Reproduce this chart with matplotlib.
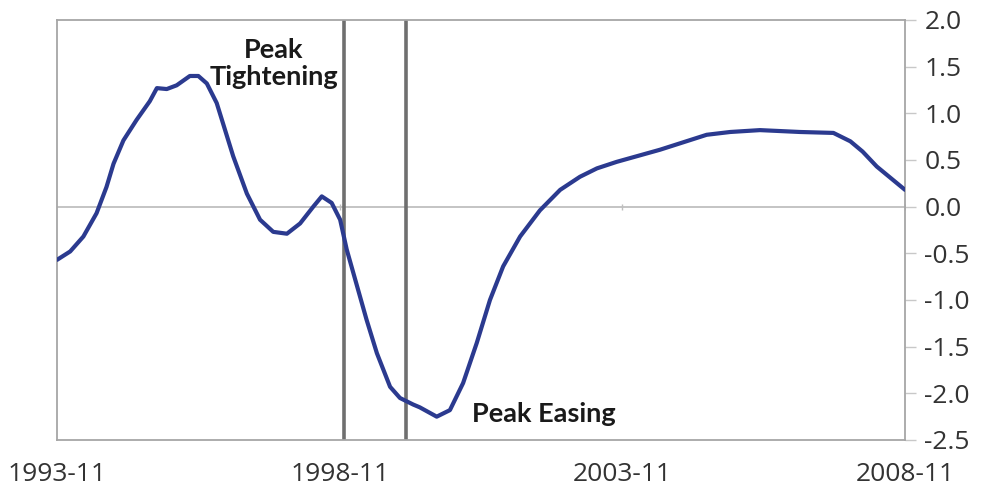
"""Цикл ужесточения/смягчения: линия индекса с отметками пиков."""

import matplotlib.pyplot as plt

# месяцы от 1993-11 (0) до 2008-11 (180)
months = [0, 2.8, 5.6, 8.4, 10.5, 12, 14.1, 16.9, 19.7, 21.2, 23.3, 25.4,
          28.2, 30, 31.8, 33.9, 37.4, 40.3, 43.1, 45.9, 48.8, 51.6, 54.4,
          56.2, 58.3, 60.1, 61.5, 65.7, 67.9, 70.7, 72.8, 75.6, 77, 80.6,
          83.4, 86.2, 89.1, 91.9, 94.7, 98.3, 102.5, 106.8, 111, 114.6,
          118.8, 128, 137.9, 142.9, 149.2, 157.7, 164.8, 168.4, 171, 174,
          180]
values = [-0.57, -0.48, -0.32, -0.07, 0.21, 0.46, 0.71, 0.93, 1.13, 1.27,
          1.26, 1.30, 1.40, 1.40, 1.32, 1.11, 0.54, 0.14, -0.14, -0.27,
          -0.29, -0.18, 0.0, 0.11, 0.04, -0.14, -0.46, -1.21, -1.57, -1.93,
          -2.05, -2.12, -2.15, -2.25, -2.18, -1.89, -1.46, -1.0, -0.64,
          -0.32, -0.04, 0.18, 0.32, 0.41, 0.48, 0.61, 0.77, 0.80, 0.82,
          0.80, 0.79, 0.70, 0.59, 0.43, 0.18]

tick_months = [0, 60, 120, 180]
tick_labels = ["1993-11", "1998-11", "2003-11", "2008-11"]
y_ticks = [2.0, 1.5, 1.0, 0.5, 0.0, -0.5, -1.0, -1.5, -2.0, -2.5]

peak_tightening = 61
peak_easing = 74

plt.rcParams["font.family"] = ["Open Sans", "DejaVu Sans"]

fig = plt.figure(figsize=(9.93, 4.97), dpi=100)
ax = fig.add_axes([0.0574, 0.1147, 0.854, 0.8451])

grey = "#a6a6a6"
ax.axhline(0, color="#bfbfbf", linewidth=1.3, zorder=1)
ax.plot(tick_months[1:], [0] * 3, linestyle="none", marker="|",
        markersize=5, color="#bfbfbf", zorder=1)
ax.axvline(peak_tightening, color="#6f6f6f", linewidth=2.6, zorder=2)
ax.axvline(peak_easing, color="#6f6f6f", linewidth=2.6, zorder=2)
ax.plot(months, values, color="#2b3a8f", linewidth=3.0,
        solid_joinstyle="round", solid_capstyle="round", zorder=3)

ax.text(46, 1.53, "Peak\nTightening", ha="center", va="center",
        fontsize=19.5, fontweight="bold", family=["Lato", "DejaVu Sans"],
        color="#1a1a1a", linespacing=1.15, zorder=4)
ax.text(88, -2.22, "Peak Easing", ha="left", va="center",
        fontsize=19.5, fontweight="bold", family=["Lato", "DejaVu Sans"],
        color="#1a1a1a", zorder=4)

ax.set_xlim(0, 180)
ax.set_ylim(-2.5, 2.0)
ax.set_xticks(tick_months)
ax.set_xticklabels(tick_labels)
ax.set_yticks(y_ticks)
ax.set_yticklabels([f"{v:.1f}" for v in y_ticks])
ax.yaxis.tick_right()

for side in ["left", "top", "bottom", "right"]:
    ax.spines[side].set_color(grey)
    ax.spines[side].set_linewidth(1.3)

ax.tick_params(axis="x", length=0, pad=16, labelsize=19, labelcolor="#333333")
ax.tick_params(axis="y", length=8, width=1, color="#c8c8c8", pad=6,
               labelsize=19, labelcolor="#333333")

fig.savefig("out.png", dpi=100)
